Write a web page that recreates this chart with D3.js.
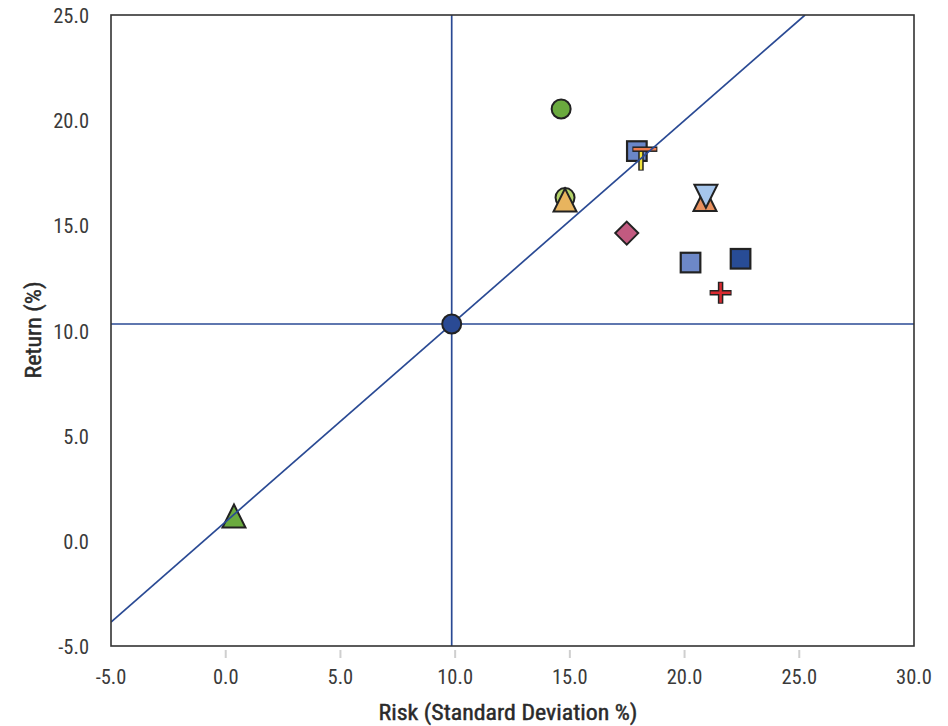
<!DOCTYPE html>
<html><head><meta charset="utf-8">
<script src="https://cdn.jsdelivr.net/npm/d3@7"></script>
<style>
html,body{margin:0;padding:0;background:#fff;}
svg{display:block;}
.tick-label{font-family:"Liberation Sans Narrow","Roboto Condensed","Arial Narrow",sans-serif;font-size:20.5px;fill:#3a3a3a;}
.axis-title{font-family:"Liberation Sans Narrow","Roboto Condensed","Arial Narrow",sans-serif;font-size:22px;font-weight:normal;fill:#2a2a2a;stroke:#2a2a2a;stroke-width:0.45px;}
</style>
</head><body>
<script>
// ---- data ----
const xTicks = [-5, 0, 5, 10, 15, 20, 25, 30];
const yTicks = [-5, 0, 5, 10, 15, 20, 25];
const xTickLabels = ["-5.0","0.0","5.0","10.0","15.0","20.0","25.0","30.0"];
const yTickLabels = ["-5.0","0.0","5.0","10.0","15.0","20.0","25.0"];
// markers (risk %, return %)
const markerNames = ["A","B","C","D","E","F","G","H","I","J","K","L","M"];
const risk   = [14.62, 14.79, 14.79, 17.92, 18.10, 18.27, 20.89, 20.93, 17.48, 20.26, 22.44, 21.57, 0.36];
const ret    = [20.53, 16.32, 16.20, 18.53, 18.10, 18.62, 16.23, 16.38, 14.63, 13.23, 13.41, 11.79, 1.18];
// market point and reference lines
const marketRisk = 9.85, marketReturn = 10.31;
const cmlX = [-5, 25.25];
const cmlY = [-3.86, 25.0];

// ---- styles (not data) ----
const markerStyle = [
  {shape:"circle",  fill:"#6aaa3e"},
  {shape:"circle",  fill:"#b5d46b"},
  {shape:"triUp",   fill:"#e8b45e"},
  {shape:"square",  fill:"#6a86c8"},
  {shape:"vbar",    fill:"#f2e33c"},
  {shape:"hbar",    fill:"#ee7b4e"},
  {shape:"triUp",   fill:"#e8905e"},
  {shape:"triDown", fill:"#a6c6ec"},
  {shape:"diamond", fill:"#c25a80"},
  {shape:"square",  fill:"#6d88c8"},
  {shape:"square",  fill:"#284c96"},
  {shape:"cross",   fill:"#da2a30"},
  {shape:"triUp",   fill:"#6aaa3e"}
];

const W = 948, H = 726;
const M = {left:111, right:914, top:15, bottom:646};
const x = d3.scaleLinear().domain([-5, 30]).range([M.left, M.right]);
const y = d3.scaleLinear().domain([-5, 25]).range([M.bottom, M.top]);

const svg = d3.select("body").append("svg").attr("width", W).attr("height", H);

svg.append("clipPath").attr("id","plot").append("rect")
  .attr("x", M.left).attr("y", M.top).attr("width", M.right-M.left).attr("height", M.bottom-M.top);

// x ticks (gray, below axis)
svg.append("g").selectAll("line").data(xTicks.slice(1,-1)).join("line")
  .attr("x1", d=>x(d)).attr("x2", d=>x(d))
  .attr("y1", M.bottom+4).attr("y2", M.bottom+12)
  .attr("stroke","#cfcfcf").attr("stroke-width",2);

svg.append("g").selectAll("text").data(xTicks).join("text")
  .attr("class","tick-label")
  .attr("x", d=>x(d)).attr("y", 677)
  .attr("text-anchor","middle").attr("dominant-baseline","central")
  .text((d,i)=>xTickLabels[i]);

svg.append("g").selectAll("text").data(yTicks).join("text")
  .attr("class","tick-label")
  .attr("x", 89).attr("y", d=>y(d)+1)
  .attr("text-anchor","end").attr("dominant-baseline","central")
  .text((d,i)=>yTickLabels[i]);

// axis titles
svg.append("text").attr("class","axis-title")
  .attr("x", 508).attr("y", 712).attr("text-anchor","middle").attr("dominant-baseline","central")
  .attr("textLength", 259).attr("lengthAdjust","spacingAndGlyphs")
  .text("Risk (Standard Deviation %)");
svg.append("text").attr("class","axis-title")
  .attr("transform","translate(33,330) rotate(-90)")
  .attr("text-anchor","middle").attr("dominant-baseline","central")
  .attr("textLength", 97).attr("lengthAdjust","spacingAndGlyphs")
  .text("Return (%)");

const plot = svg.append("g").attr("clip-path","url(#plot)");
const lineCol = "#2a4a94";
const stroke = "#222";

function drawMarker(g, s) {
  switch (s.shape) {
    case "circle":
      g.append("circle").attr("r", 9.5).attr("fill", s.fill).attr("stroke", stroke).attr("stroke-width", 2); break;
    case "square":
      g.append("rect").attr("x",-9.8).attr("y",-9.8).attr("width",19.6).attr("height",19.6)
        .attr("fill", s.fill).attr("stroke", stroke).attr("stroke-width", 2.2); break;
    case "triUp":
      g.append("path").attr("d","M0,-11.5L11.5,11.5L-11.5,11.5Z")
        .attr("fill", s.fill).attr("stroke", stroke).attr("stroke-width", 2).attr("stroke-linejoin","miter"); break;
    case "triDown":
      g.append("path").attr("d","M0,11.5L11.5,-11.5L-11.5,-11.5Z")
        .attr("fill", s.fill).attr("stroke", stroke).attr("stroke-width", 2).attr("stroke-linejoin","miter"); break;
    case "diamond":
      g.append("path").attr("d","M0,-11.5L11.5,0L0,11.5L-11.5,0Z")
        .attr("fill", s.fill).attr("stroke", stroke).attr("stroke-width", 2); break;
    case "cross":
      g.append("path").attr("d","M-11,0H11M0,-11V11").attr("stroke", stroke).attr("stroke-width", 5.5).attr("fill","none");
      g.append("path").attr("d","M-10,0H10M0,-10V10").attr("stroke", s.fill).attr("stroke-width", 2.5).attr("fill","none"); break;
    case "hbar":
      g.append("path").attr("d","M-12.5,0H12.5").attr("stroke", stroke).attr("stroke-width", 5.5);
      g.append("path").attr("d","M-11.5,0H11.5").attr("stroke", s.fill).attr("stroke-width", 2.5); break;
    case "vbar":
      g.append("path").attr("d","M0,-10.5V10.5").attr("stroke", stroke).attr("stroke-width", 5.5);
      g.append("path").attr("d","M0,-9.5V9.5").attr("stroke", s.fill).attr("stroke-width", 2.5); break;
  }
}

const mk = plot.append("g");
risk.forEach((r, i) => {
  const g = mk.append("g").attr("transform", `translate(${x(r)},${y(ret[i])})`);
  drawMarker(g, markerStyle[i]);
});

// reference lines
plot.append("line").attr("x1", x(marketRisk)).attr("x2", x(marketRisk))
  .attr("y1", M.top).attr("y2", M.bottom).attr("stroke", lineCol).attr("stroke-width", 1.7);
plot.append("line").attr("x1", M.left).attr("x2", M.right)
  .attr("y1", y(marketReturn)).attr("y2", y(marketReturn)).attr("stroke", lineCol).attr("stroke-width", 1.7);
plot.append("line").attr("x1", x(cmlX[0])).attr("y1", y(cmlY[0]))
  .attr("x2", x(cmlX[1])).attr("y2", y(cmlY[1])).attr("stroke", lineCol).attr("stroke-width", 1.7);

// market point
plot.append("circle").attr("cx", x(marketRisk)).attr("cy", y(marketReturn)).attr("r", 9.5)
  .attr("fill", "#2a4a94").attr("stroke", stroke).attr("stroke-width", 2);

// frame
svg.append("rect").attr("x", M.left).attr("y", M.top).attr("width", M.right-M.left).attr("height", M.bottom-M.top)
  .attr("fill","none").attr("stroke","#333").attr("stroke-width",1.6);
</script>
</body></html>
